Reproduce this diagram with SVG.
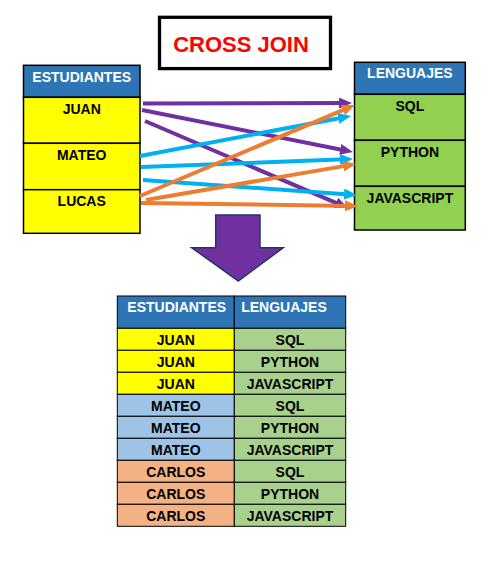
<svg xmlns="http://www.w3.org/2000/svg" width="486" height="564" viewBox="0 0 486 564">
<style>
text{font-family:"Liberation Sans",Arial,sans-serif;font-weight:bold;font-size:14px;text-anchor:middle;fill:#000}
.hd{fill:#FFFFFF}
.tb{stroke:#000;stroke-width:1.5}
.bt{stroke:#000;stroke-width:1}
.ar{fill:none;stroke-width:4}
</style>
<defs>
<marker id="mp" markerUnits="userSpaceOnUse" markerWidth="13" markerHeight="11" viewBox="0 0 13 11" refX="5" refY="5.5" orient="auto"><path d="M0,0 L13,5.5 L0,11 z" fill="#7030A0"/></marker>
<marker id="mc" markerUnits="userSpaceOnUse" markerWidth="13" markerHeight="11" viewBox="0 0 13 11" refX="5" refY="5.5" orient="auto"><path d="M0,0 L13,5.5 L0,11 z" fill="#00B0F0"/></marker>
<marker id="mo" markerUnits="userSpaceOnUse" markerWidth="13" markerHeight="11" viewBox="0 0 13 11" refX="5" refY="5.5" orient="auto"><path d="M0,0 L13,5.5 L0,11 z" fill="#ED7D31"/></marker>
</defs>
<rect width="486" height="564" fill="#FFFFFF"/>
<g id="title">
<rect x="159.5" y="17.3" width="171" height="51.3" fill="#FFFFFF" stroke="#000" stroke-width="3.3"/>
<text x="241" y="52" style="font-size:22px;fill:#FF0000">CROSS JOIN</text>
</g>
<g id="estudiantes">
<rect class="tb" x="23.5" y="65.3" width="116.5" height="32" fill="#2E75B6"/>
<text class="hd" x="81.7" y="81.7">ESTUDIANTES</text>
<rect class="tb" x="23.5" y="97.3" width="116.5" height="46" fill="#FFFF00"/>
<text x="81.7" y="114">JUAN</text>
<rect class="tb" x="23.5" y="143.3" width="116.5" height="46.4" fill="#FFFF00"/>
<text x="81.7" y="160">MATEO</text>
<rect class="tb" x="23.5" y="189.7" width="116.5" height="43.6" fill="#FFFF00"/>
<text x="81.7" y="206">LUCAS</text>
</g>
<g id="lenguajes">
<rect class="tb" x="354.5" y="62.3" width="110.8" height="32" fill="#2E75B6"/>
<text class="hd" x="409.9" y="78.3">LENGUAJES</text>
<rect class="tb" x="354.5" y="94.3" width="110.8" height="46" fill="#92D050"/>
<text x="409.9" y="111">SQL</text>
<rect class="tb" x="354.5" y="140.3" width="110.8" height="46" fill="#92D050"/>
<text x="409.9" y="157">PYTHON</text>
<rect class="tb" x="354.5" y="186.3" width="110.8" height="43.7" fill="#92D050"/>
<text x="409.9" y="203">JAVASCRIPT</text>
</g>
<g id="connectors">
<path class="ar" stroke="#7030A0" marker-end="url(#mp)" d="M143,103.5 L344,103.02"/>
<path class="ar" stroke="#7030A0" marker-end="url(#mp)" d="M142,110 L345.15,150.44"/>
<path class="ar" stroke="#7030A0" marker-end="url(#mp)" d="M145,121 L340.65,204.85"/>
<path class="ar" stroke="#00B0F0" marker-end="url(#mc)" d="M140,156 L343.14,117.49"/>
<path class="ar" stroke="#00B0F0" marker-end="url(#mc)" d="M141,167 L345,159.3"/>
<path class="ar" stroke="#00B0F0" marker-end="url(#mc)" d="M143,180 L349.02,194.44"/>
<path class="ar" stroke="#ED7D31" marker-end="url(#mo)" d="M140,196 L347.63,108.12"/>
<path class="ar" stroke="#ED7D31" marker-end="url(#mo)" d="M146,200 L348.12,165.35"/>
<path class="ar" stroke="#ED7D31" marker-end="url(#mo)" d="M141,203 L350,205.89"/>
</g>
<g id="big-arrow">
<path d="M215.7,215 L260,215 L260,247.7 L283.3,247.7 L238.3,281 L191.7,247.7 L215.7,247.7 z" fill="#7030A0" stroke="#1F3864" stroke-width="1.5" stroke-linejoin="miter"/>
</g>
<g id="result">
<rect class="bt" x="117.3" y="296" width="117" height="32.3" fill="#2E75B6"/>
<rect class="bt" x="234.3" y="296" width="111.4" height="32.3" fill="#2E75B6"/>
<text class="hd" x="176.7" y="312.3">ESTUDIANTES</text>
<text class="hd" x="284" y="312.3">LENGUAJES</text>
<rect class="bt" x="117.3" y="328.3" width="117" height="22" fill="#FFFF00"/>
<rect class="bt" x="234.3" y="328.3" width="111.4" height="22" fill="#A9D18E"/>
<text x="175.8" y="345">JUAN</text><text x="290" y="345">SQL</text>
<rect class="bt" x="117.3" y="350.3" width="117" height="22" fill="#FFFF00"/>
<rect class="bt" x="234.3" y="350.3" width="111.4" height="22" fill="#A9D18E"/>
<text x="175.8" y="367">JUAN</text><text x="290" y="367">PYTHON</text>
<rect class="bt" x="117.3" y="372.3" width="117" height="22" fill="#FFFF00"/>
<rect class="bt" x="234.3" y="372.3" width="111.4" height="22" fill="#A9D18E"/>
<text x="175.8" y="389">JUAN</text><text x="290" y="389">JAVASCRIPT</text>
<rect class="bt" x="117.3" y="394.3" width="117" height="22" fill="#9DC3E6"/>
<rect class="bt" x="234.3" y="394.3" width="111.4" height="22" fill="#A9D18E"/>
<text x="175.8" y="411">MATEO</text><text x="290" y="411">SQL</text>
<rect class="bt" x="117.3" y="416.3" width="117" height="22" fill="#9DC3E6"/>
<rect class="bt" x="234.3" y="416.3" width="111.4" height="22" fill="#A9D18E"/>
<text x="175.8" y="433">MATEO</text><text x="290" y="433">PYTHON</text>
<rect class="bt" x="117.3" y="438.3" width="117" height="22" fill="#9DC3E6"/>
<rect class="bt" x="234.3" y="438.3" width="111.4" height="22" fill="#A9D18E"/>
<text x="175.8" y="455">MATEO</text><text x="290" y="455">JAVASCRIPT</text>
<rect class="bt" x="117.3" y="460.3" width="117" height="22" fill="#F4B183"/>
<rect class="bt" x="234.3" y="460.3" width="111.4" height="22" fill="#A9D18E"/>
<text x="175.8" y="477">CARLOS</text><text x="290" y="477">SQL</text>
<rect class="bt" x="117.3" y="482.3" width="117" height="22" fill="#F4B183"/>
<rect class="bt" x="234.3" y="482.3" width="111.4" height="22" fill="#A9D18E"/>
<text x="175.8" y="499">CARLOS</text><text x="290" y="499">PYTHON</text>
<rect class="bt" x="117.3" y="504.3" width="117" height="22" fill="#F4B183"/>
<rect class="bt" x="234.3" y="504.3" width="111.4" height="22" fill="#A9D18E"/>
<text x="175.8" y="521">CARLOS</text><text x="290" y="521">JAVASCRIPT</text>
</g>
</svg>
